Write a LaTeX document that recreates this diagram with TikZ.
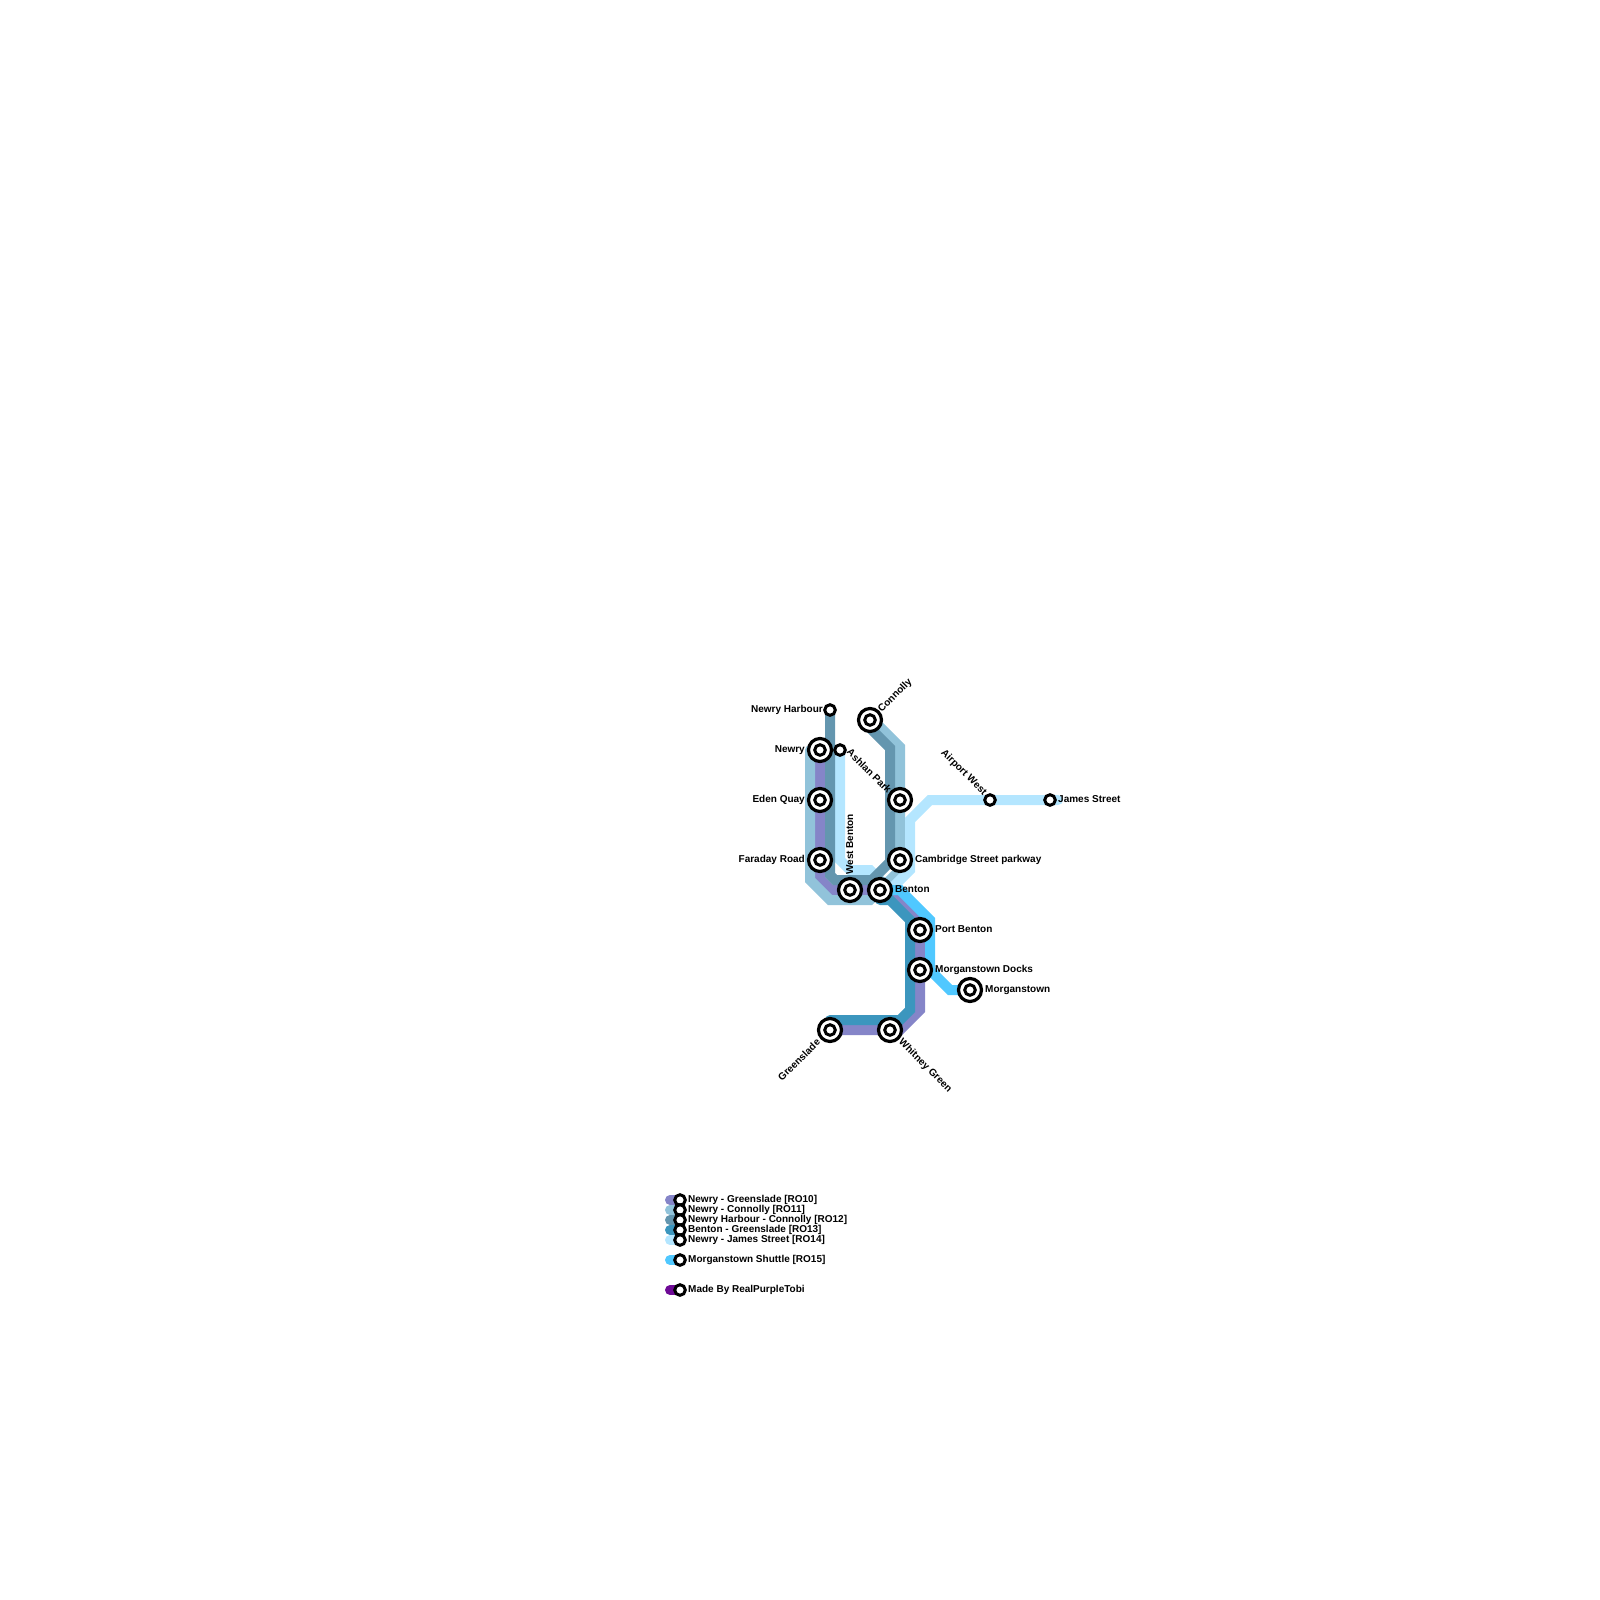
\documentclass[tikz,border=0pt]{standalone}
\usepackage{fontspec}
\setmainfont{Liberation Sans}
\usetikzlibrary{backgrounds}
\definecolor{roPurple}{HTML}{8585C8}
\definecolor{roPale}{HTML}{91C3DA}
\definecolor{roSlate}{HTML}{6496AF}
\definecolor{roTeal}{HTML}{3C96BE}
\definecolor{roIce}{HTML}{B4E6FF}
\definecolor{roSky}{HTML}{50C8FF}
\definecolor{roAuthor}{HTML}{6E0A96}
\tikzset{
  bigStop/.style={circle, draw=black, fill=white, line width=3.2pt, minimum size=23pt, inner sep=0pt},
  bigCore/.style={circle, draw=black, fill=white, line width=3pt, minimum size=10.6pt, inner sep=0pt},
  smallStop/.style={circle, draw=black, fill=white, line width=3pt, minimum size=10.6pt, inner sep=0pt},
  routeLine/.style={line width=10pt, line cap=round, line join=miter},
  stopLabel/.style={font=\bfseries\fontsize{10}{12}\selectfont, inner sep=0pt, text height=8pt, text depth=0pt}
}

\begin{document}
\begin{tikzpicture}[x=1pt,y=-1pt]
  \useasboundingbox (0,0) rectangle (1600,1600);
  \foreach \n/\x/\y in {newry/820/750,edenQuay/820/800,faraday/820/860,westBenton/850/890,benton/880/890,
    upperStop/900/800,cambridge/900/860,connolly/870/720,portBenton/920/930,docks/920/970,
    morganstown/970/990,greenslade/830/1030,whitney/890/1030} {
    \node[bigStop] (\n) at (\x,\y) {};
    \node[bigCore] (\n core) at (\n) {};
  }
  \foreach \n/\x/\y in {harbour/830/710,ashlan/840/750,airport/990/800,james/1050/800,
    keyA/680/1200,keyB/680/1210,keyC/680/1220,keyD/680/1230,keyE/680/1240,keyF/680/1260,keyG/680/1290} {
    \node[smallStop] (\n) at (\x,\y) {};
  }
  \begin{scope}[on background layer]
    \draw[routeLine, roPurple] (newry.center) -- (820,879) -- (831,890) -- (westBenton.center) -- (benton.center) -- (890,890) -- (920,920) -- (portBenton.center) -- (docks.center) -- (920,1010) -- (900,1030) -- (whitney.center) -- (greenslade.center);
    \draw[routeLine, roPale] (810,750) -- (810,880) -- (830,900) -- (870,900) -- (900,870) -- (900,747) -- (870,717);
    \draw[routeLine, roIce] (ashlan.center) -- (840,860) -- (850,870) -- (870,870) -- (890,890) -- (910,870) -- (910,820) -- (930,800) -- (james.center) -- (1058,800);
    \draw[routeLine, roSlate] (harbour.center) -- (830,875) -- (835,880) -- (872,880) -- (890,862) -- (890,748) -- (869,727);
    \draw[routeLine, roTeal] (880,900) -- (890,900) -- (910,920) -- (910,1010) -- (900,1020) -- (830,1020);
    \draw[routeLine, roSky] (benton.center) -- (900,890) -- (930,920) -- (930,970) -- (950,990) -- (morganstown.center);
    \foreach \n/\col in {keyA/roPurple,keyB/roPale,keyC/roSlate,keyD/roTeal,keyE/roIce,keyF/roSky,keyG/roAuthor} {
      \draw[routeLine, \col] (\n.center) -- ++(-10,0);
    }
  \end{scope}
  % labels left of the stops
  \foreach \n/\x/\y/\lab in {labHarbour/823/708/{Newry Harbour},labNewry/805/748/{Newry},labEden/805/798/{Eden Quay},labFaraday/805/858/{Faraday Road}} {
    \node[stopLabel, anchor=east] (\n) at (\x,\y) {\lab};
  }
  % labels right of the stops
  \foreach \n/\x/\y/\lab in {labCambridge/915/858/{Cambridge Street parkway},labBenton/895/888/{Benton},labPort/935/928/{Port Benton},
    labDocks/935/968/{Morganstown Docks},labMorgan/985/988/{Morganstown},labJames/1058/798/{James Street},
    labKeyA/688/1198/{Newry - Greenslade [RO10]},labKeyB/688/1208/{Newry - Connolly [RO11]},labKeyC/688/1218/{Newry Harbour - Connolly [RO12]},
    labKeyD/688/1228/{Benton - Greenslade [RO13]},labKeyE/688/1238/{Newry - James Street [RO14]},labKeyF/688/1258/{Morganstown Shuttle [RO15]},
    labKeyG/688/1288/{Made By RealPurpleTobi}} {
    \node[stopLabel, anchor=west] (\n) at (\x,\y) {\lab};
  }
  % slanted labels
  \node[stopLabel, anchor=west, rotate=90] (labWest) at (849,875) {West Benton};
  \node[stopLabel, anchor=west, rotate=-45] (labAshlan) at (849,750) {Ashlan Park};
  \node[stopLabel, anchor=west, rotate=45] (labConnolly) at (879,710) {Connolly};
  \node[stopLabel, anchor=east, rotate=-45] (labAirport) at (986,793) {Airport West};
  \node[stopLabel, anchor=east, rotate=45] (labGreen) at (818,1040) {Greenslade};
  \node[stopLabel, anchor=west, rotate=-45] (labWhitney) at (901,1040) {Whitney Green};
\end{tikzpicture}
\end{document}
